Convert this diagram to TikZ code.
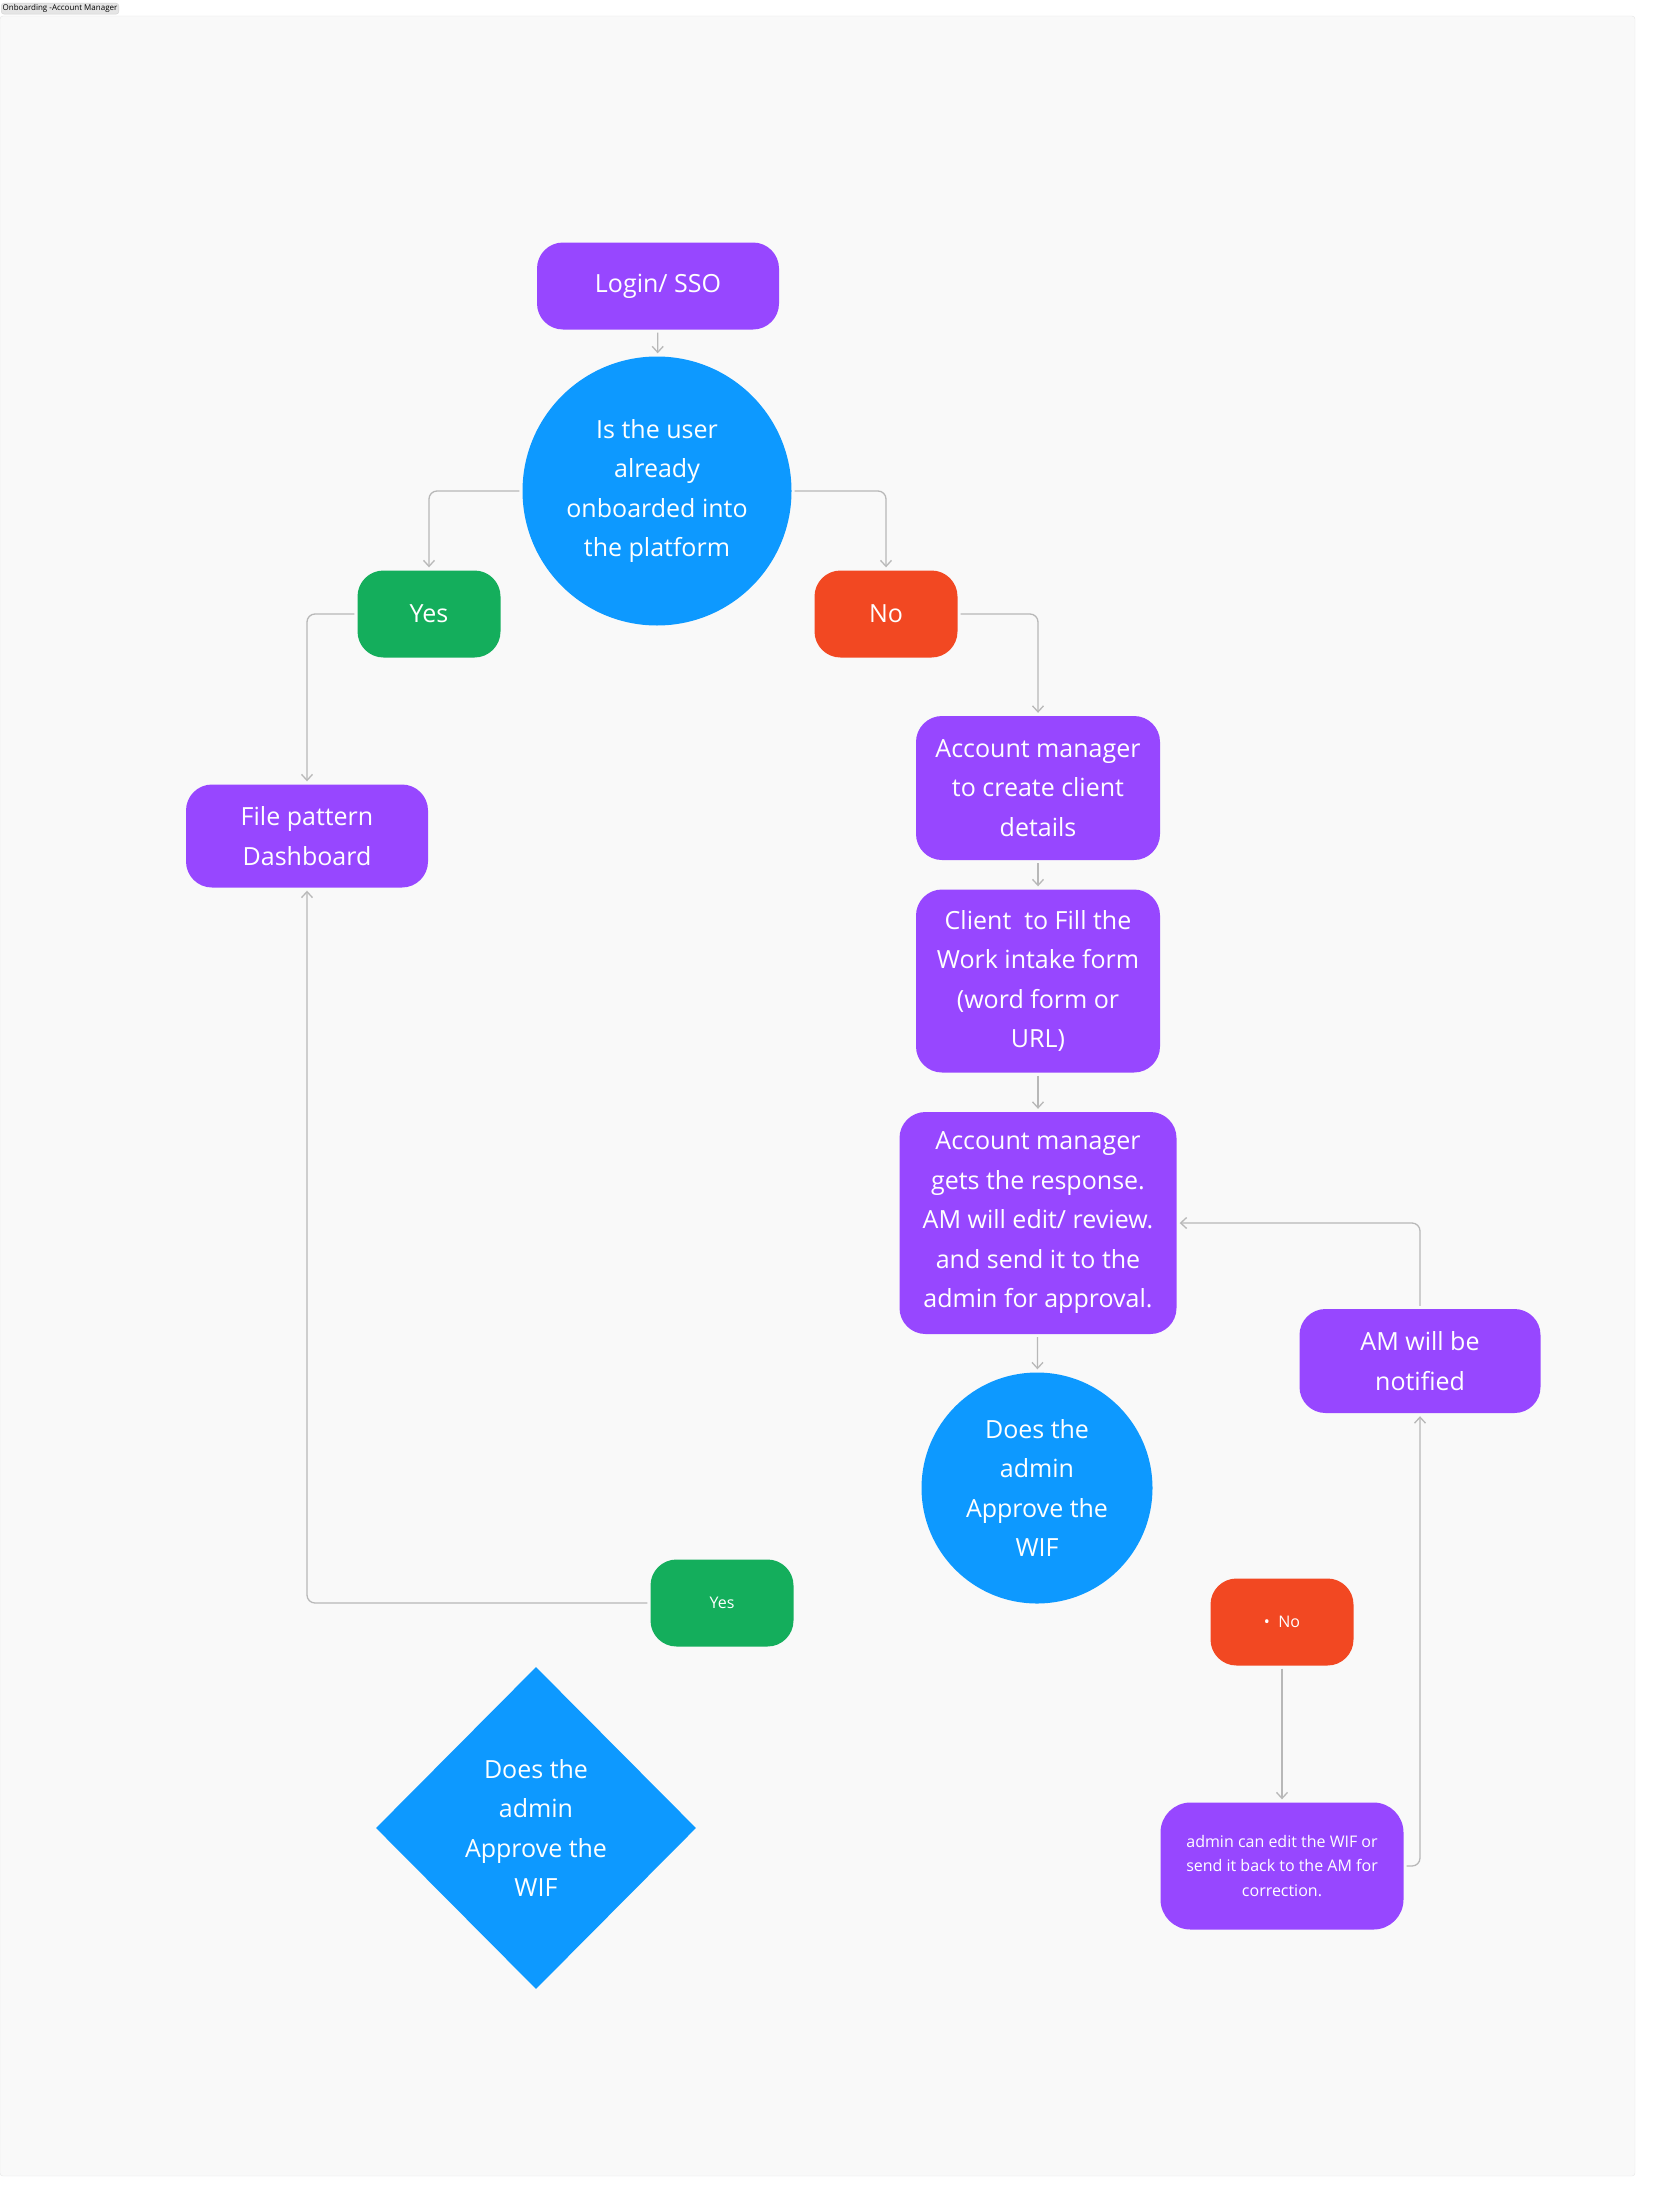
\documentclass[tikz,border=0pt]{standalone}
\usepackage{fontspec}
\setmainfont{Open Sans}
\usetikzlibrary{arrows.meta,shapes.geometric}
\definecolor{fpurple}{HTML}{9747FF}
\definecolor{fblue}{HTML}{0D99FF}
\definecolor{fgreen}{HTML}{14AE5C}
\definecolor{fred}{HTML}{F24822}
\definecolor{fline}{HTML}{B8B8B8}
\definecolor{fpaper}{HTML}{F9F9F9}
\def\big{\fontsize{25}{39.5}\selectfont}
\def\small{\fontsize{16}{24.5}\selectfont}
\tikzset{
  proc/.style={fill=fpurple, text=white, rounded corners=26pt, inner sep=0pt, align=center, font=\big},
  yesbox/.style={proc, fill=fgreen, minimum width=143pt, minimum height=87pt},
  nobox/.style={proc, fill=fred, minimum width=143pt, minimum height=87pt},
  ask/.style={circle, fill=fblue, text=white, inner sep=0pt, align=center, font=\big},
  link/.style={draw=fline, line width=1.3pt, rounded corners=8pt, shorten >=3pt, shorten <=3pt,
    -{Straight Barb[length=6pt, width=11pt, line width=1.3pt]}}
}

\begin{document}
\begin{tikzpicture}[x=1pt, y=-1pt]
  \useasboundingbox (0,0) rectangle (1652,2194);
  % frame
  \draw[fill=fpaper, draw=black!10, rounded corners=3pt] (0,16) rectangle (1635,2176);
  \node[fill=black!10, draw=black!18, rounded corners=3pt, inner sep=1.5pt, font=\fontsize{8}{9}\selectfont, anchor=north west]
    (tag) at (1,3) {Onboarding -Account Manager};

  % first question
  \node[proc, minimum width=242pt, minimum height=87pt] (login) at (658,286) {Login/ SSO};
  \node[ask, minimum size=269pt] (user) at (657,491) {Is the user\\already\\onboarded into\\the platform};
  \node[yesbox] (yes) at (429,614) {Yes};
  \node[nobox] (no) at (886,614) {No};

  % left branch
  \node[proc, minimum width=242pt, minimum height=103pt] (dash) at (307,836) {File pattern\\Dashboard};

  % right branch
  \node[proc, minimum width=244pt, minimum height=144pt] (create) at (1038,788) {Account manager\\to create client\\details};
  \node[proc, minimum width=244pt, minimum height=183pt] (form) at (1038,981) {Client\ \ to Fill the\\Work intake form\\(word form or\\URL)};
  \node[proc, minimum width=277pt, minimum height=222pt] (review) at (1038,1223) {Account manager\\gets the response.\\AM will edit/ review.\\and send it to the\\admin for approval.};
  \node[ask, minimum size=231pt] (approve) at (1037,1488) {Does the\\admin\\Approve the\\WIF};
  \node[proc, minimum width=241pt, minimum height=104pt] (notify) at (1420,1361) {AM will be\\notified};

  % second answers
  \node[yesbox, font=\small] (yesb) at (722,1603) {Yes};
  \node[nobox, font=\small] (nob) at (1282,1622) {\textbullet\ \ No};
  \node[proc, font=\small, rounded corners=30pt, minimum width=243pt, minimum height=127pt] (edit) at (1282,1866)
    {admin can edit the WIF or\\send it back to the AM for\\correction.};
  \node[diamond, fill=fblue, text=white, inner sep=0pt, align=center, font=\big,
    minimum width=320pt, minimum height=322pt] (gate) at (536,1828) {Does the\\admin\\Approve the\\WIF};

  % connectors
  \draw[link] (login) -- (user);
  \draw[link] (user.west) -| (yes.north);
  \draw[link] (user.east) -| (no.north);
  \draw[link] (yes.west) -| (dash.north);
  \draw[link] (no.east) -| (create.north);
  \draw[link] (create) -- (form);
  \draw[link] (form) -- (review);
  \draw[link] (review) -- (approve);
  \draw[link] (yesb.west) -| (dash.south);
  \draw[link] (nob) -- (edit);
  \draw[link] (edit.east) -| (notify.south);
  \draw[link] (notify.north) |- (review.east);
\end{tikzpicture}
\end{document}
